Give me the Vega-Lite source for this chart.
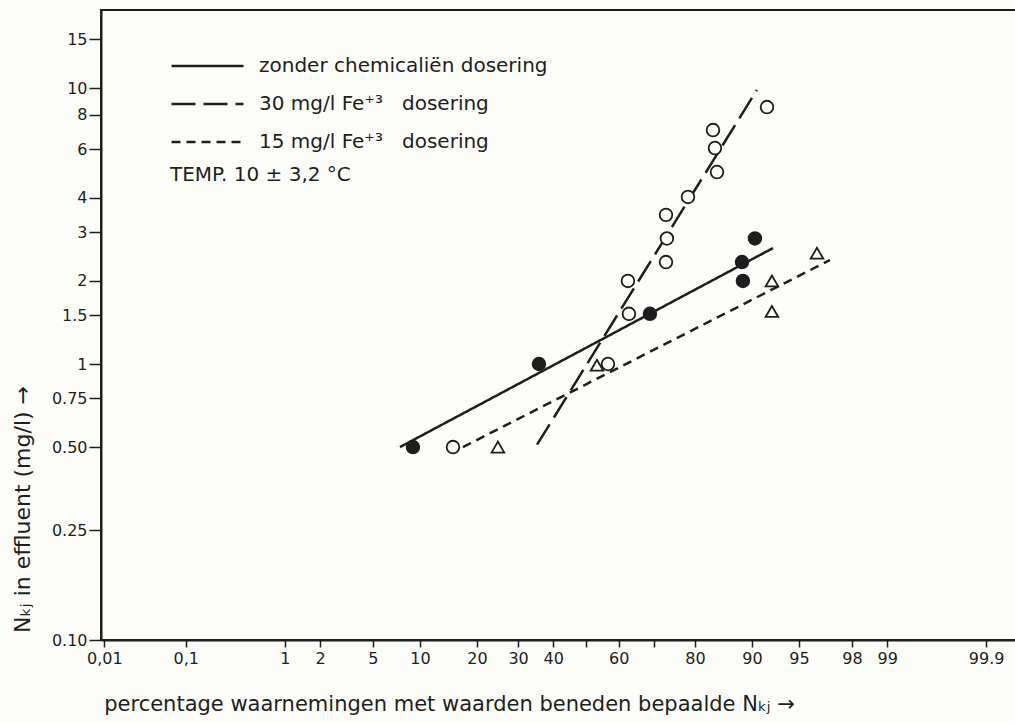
{
  "$schema": "https://vega.github.io/schema/vega-lite/v6.json",
  "width": 916,
  "height": 630,
  "autosize": {"type": "none"},
  "padding": {"left": 101, "top": 10, "right": 0, "bottom": 83},
  "background": "#fcfcf9",
  "config": {
    "font": "DejaVu Sans",
    "view": {"stroke": "#1e1e1e", "strokeWidth": 2},
    "axis": {
      "grid": false,
      "domainColor": "#1e1e1e",
      "domainWidth": 2,
      "tickColor": "#1e1e1e",
      "tickWidth": 1.5,
      "labelColor": "#1e1e1e",
      "titleColor": "#1e1e1e",
      "labelFont": "DejaVu Sans",
      "titleFont": "DejaVu Sans",
      "titleFontWeight": "normal"
    }
  },
  "datasets": {
    "lines": [
      {"series": "zonder chemicaliën dosering", "pct": 7.55, "z": -1.436, "value": 0.5},
      {"series": "zonder chemicaliën dosering", "pct": 92.6, "z": 1.444, "value": 2.63},
      {"series": "30 mg/l Fe⁺³\u00a0\u00a0\u00a0dosering", "pct": 35.3, "z": -0.378, "value": 0.51},
      {"series": "30 mg/l Fe⁺³\u00a0\u00a0\u00a0dosering", "pct": 90.7, "z": 1.32, "value": 9.84},
      {"series": "15 mg/l Fe⁺³\u00a0\u00a0\u00a0dosering", "pct": 17.1, "z": -0.95, "value": 0.5},
      {"series": "15 mg/l Fe⁺³\u00a0\u00a0\u00a0dosering", "pct": 97.0, "z": 1.884, "value": 2.38}
    ],
    "points": [
      {"group": "zonder", "pct": 9.1, "z": -1.336, "value": 0.5},
      {"group": "zonder", "pct": 35.8, "z": -0.363, "value": 1.0},
      {"group": "zonder", "pct": 68.9, "z": 0.494, "value": 1.52},
      {"group": "zonder", "pct": 88.6, "z": 1.205, "value": 2.34},
      {"group": "zonder", "pct": 88.7, "z": 1.212, "value": 2.0},
      {"group": "zonder", "pct": 90.4, "z": 1.305, "value": 2.85},
      {"group": "Fe 30", "pct": 15.2, "z": -1.027, "value": 0.5},
      {"group": "Fe 30", "pct": 56.7, "z": 0.17, "value": 1.0},
      {"group": "Fe 30", "pct": 62.7, "z": 0.324, "value": 2.0},
      {"group": "Fe 30", "pct": 63.0, "z": 0.332, "value": 1.52},
      {"group": "Fe 30", "pct": 73.2, "z": 0.618, "value": 2.34},
      {"group": "Fe 30", "pct": 73.4, "z": 0.625, "value": 2.85},
      {"group": "Fe 30", "pct": 73.2, "z": 0.618, "value": 3.47},
      {"group": "Fe 30", "pct": 78.5, "z": 0.788, "value": 4.03},
      {"group": "Fe 30", "pct": 83.7, "z": 0.981, "value": 7.04},
      {"group": "Fe 30", "pct": 84.0, "z": 0.996, "value": 6.06},
      {"group": "Fe 30", "pct": 84.4, "z": 1.012, "value": 4.96},
      {"group": "Fe 30", "pct": 91.9, "z": 1.398, "value": 8.53},
      {"group": "Fe 15", "pct": 24.8, "z": -0.68, "value": 0.5},
      {"group": "Fe 15", "pct": 53.4, "z": 0.085, "value": 0.99},
      {"group": "Fe 15", "pct": 92.5, "z": 1.436, "value": 2.0},
      {"group": "Fe 15", "pct": 92.5, "z": 1.436, "value": 1.55},
      {"group": "Fe 15", "pct": 96.3, "z": 1.784, "value": 2.52}
    ]
  },
  "encoding": {
    "x": {
      "field": "z",
      "type": "quantitative",
      "scale": {"domain": [-3.745, 3.3286], "nice": false, "zero": false},
      "axis": {
        "values": [-3.719, -3.09, -2.326, -2.054, -1.645, -1.282, -0.842, -0.524, -0.253, 0, 0.253, 0.524, 0.842, 1.282, 1.645, 2.054, 2.326, 3.09],
        "labelExpr": "datum.value < -3.5 ? '0,01' : datum.value < -3 ? '0,1' : datum.value < -2.2 ? '1' : datum.value < -2 ? '2' : datum.value < -1.5 ? '5' : datum.value < -1 ? '10' : datum.value < -0.7 ? '20' : datum.value < -0.4 ? '30' : datum.value < -0.1 ? '40' : datum.value < 0.1 ? '' : datum.value < 0.4 ? '60' : datum.value < 0.7 ? '' : datum.value < 1 ? '80' : datum.value < 1.5 ? '90' : datum.value < 1.9 ? '95' : datum.value < 2.2 ? '98' : datum.value < 2.5 ? '99' : '99.9'",
        "labelFlush": false,
        "labelOverlap": false,
        "labelBound": false,
        "tickSize": 7,
        "labelPadding": 3,
        "labelFontSize": 16,
        "title": "percentage waarnemingen met waarden beneden bepaalde Nₖⱼ →",
        "titleFontSize": 21,
        "titleX": 348,
        "titleY": 70,
        "titleAlign": "center",
        "titleBaseline": "alphabetic"
      }
    },
    "y": {
      "field": "value",
      "type": "quantitative",
      "scale": {"type": "log", "domain": [0.1, 19.17], "nice": false},
      "axis": {
        "values": [0.1, 0.25, 0.5, 0.75, 1, 1.5, 2, 3, 4, 6, 8, 10, 15],
        "labelExpr": "datum.value < 1 ? format(datum.value, '.2f') : format(datum.value, '~g')",
        "labelOverlap": false,
        "labelFlush": false,
        "tickSize": 12,
        "labelPadding": 2,
        "labelFontSize": 16,
        "title": "Nₖⱼ in effluent (mg/l) →",
        "titleFontSize": 22,
        "titleX": -79,
        "titleY": 499,
        "titleAlign": "center",
        "titleBaseline": "middle"
      }
    }
  },
  "layer": [
    {
      "data": {"name": "lines"},
      "mark": {"type": "line", "color": "#1e1e1e", "strokeWidth": 2.5},
      "encoding": {
        "strokeDash": {
          "field": "series",
          "type": "nominal",
          "scale": {
            "domain": ["zonder chemicaliën dosering", "30 mg/l Fe⁺³\u00a0\u00a0\u00a0dosering", "15 mg/l Fe⁺³\u00a0\u00a0\u00a0dosering"],
            "range": [[1, 0], [24, 8], [9, 6]]
          },
          "legend": {
            "orient": "none",
            "legendX": 69,
            "legendY": 45,
            "title": "TEMP. 10 ± 3,2 °C",
            "titleOrient": "bottom",
            "titleAnchor": "start",
            "titleFontSize": 20,
            "titleFontWeight": "normal",
            "titleColor": "#1e1e1e",
            "titleLimit": 500,
            "titlePadding": 12,
            "labelFontSize": 20,
            "labelColor": "#1e1e1e",
            "labelOffset": 14,
            "labelLimit": 0,
            "symbolType": "stroke",
            "symbolSize": 5184,
            "symbolStrokeWidth": 2.5,
            "symbolStrokeColor": "#1e1e1e",
            "clipHeight": 22,
            "rowPadding": 16
          }
        }
      }
    },
    {
      "data": {"name": "points"},
      "mark": {"type": "point", "filled": true, "stroke": "#1e1e1e", "strokeWidth": 1.8, "opacity": 1},
      "encoding": {
        "shape": {
          "field": "group",
          "type": "nominal",
          "scale": {"domain": ["zonder", "Fe 30", "Fe 15"], "range": ["circle", "circle", "triangle-up"]},
          "legend": null
        },
        "fill": {
          "field": "group",
          "type": "nominal",
          "scale": {"domain": ["zonder", "Fe 30", "Fe 15"], "range": ["#1e1e1e", "#fcfcf9", "#fcfcf9"]},
          "legend": null
        },
        "size": {
          "field": "group",
          "type": "nominal",
          "scale": {"domain": ["zonder", "Fe 30", "Fe 15"], "range": [160, 160, 100]},
          "legend": null
        }
      }
    }
  ]
}
